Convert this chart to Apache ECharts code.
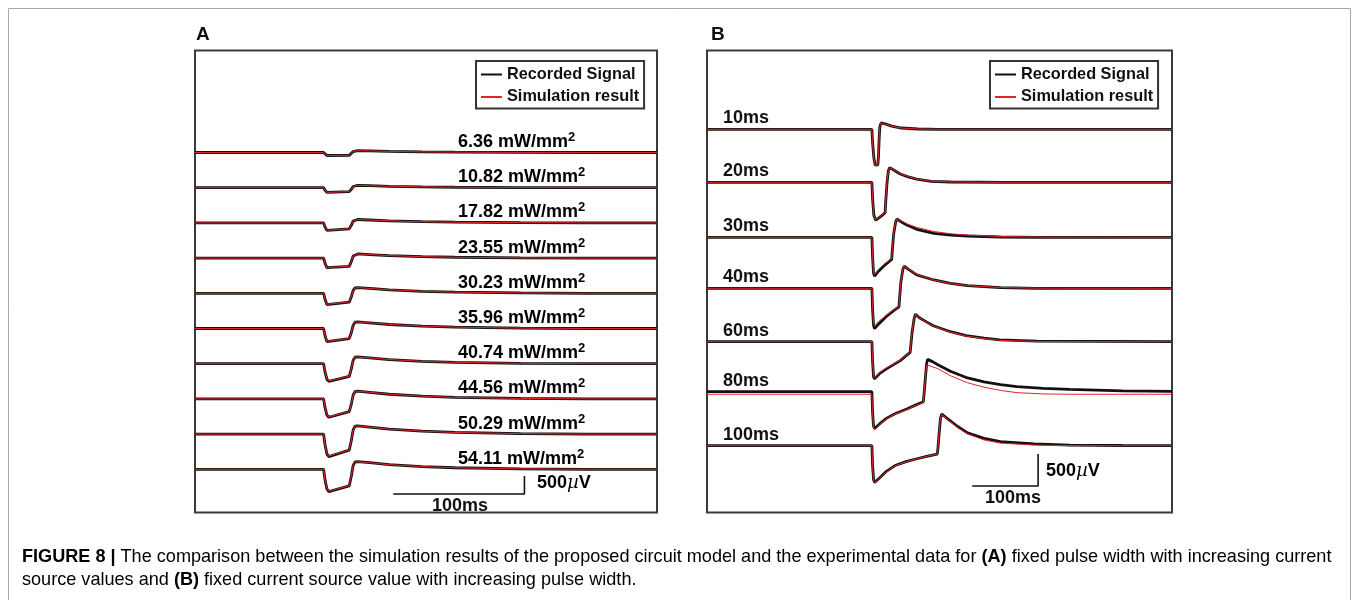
<!DOCTYPE html>
<html><head><meta charset="utf-8">
<script src="https://cdn.jsdelivr.net/npm/echarts@6/dist/echarts.min.js"></script>
<style>html,body{margin:0;padding:0;background:#fff}#c{width:1358px;height:600px}</style>
</head><body><div id="c"></div>
<script>
// ---------------- DATA ----------------
// Panel A: fixed pulse width (~20 ms), increasing intensity. Time in ms relative to stimulus onset, amplitude in µV.
const timeA = [-98, 0, 1, 2.5, 4, 19.5, 21, 22.5, 24, 26, 35, 50, 75, 100, 150, 200, 254];
const intensityLabelsA = ['6.36', '10.82', '17.82', '23.55', '30.23', '35.96', '40.74', '44.56', '50.29', '54.11'];
const recordedA = [
  [0, 0, -43, -84, -95, -80, -36, 25, 48, 50, 43, 30, 18, 10, 3, 0, 0],
  [0, 0, -68, -132, -150, -110, -50, 33, 62, 65, 55, 39, 23, 13, 4, 0, 0],
  [0, 0, -106, -207, -235, -165, -74, 48, 90, 95, 81, 57, 33, 19, 6, 0, 0],
  [0, 0, -135, -264, -300, -230, -104, 58, 109, 115, 98, 69, 40, 23, 7, 0, 0],
  [0, 0, -160, -312, -355, -245, -110, 80, 152, 160, 136, 96, 56, 32, 10, 0, 0],
  [0, 0, -187, -365, -415, -280, -126, 93, 176, 185, 157, 111, 65, 37, 11, 0, 0],
  [0, 0, -220, -431, -490, -350, -158, 95, 181, 190, 162, 114, 67, 38, 11, 0, 0],
  [0, 0, -230, -449, -510, -355, -160, 108, 204, 215, 183, 129, 75, 43, 13, 0, 0],
  [0, 0, -281, -550, -625, -445, -200, 115, 219, 230, 196, 138, 81, 46, 14, 0, 0],
  [0, 0, -279, -546, -620, -460, -207, 108, 204, 215, 183, 129, 75, 43, 13, 0, 0]
];
const simulatedA = [
  [0, 0, -40, -82, -92, -78, -34, 24, 46, 50, 44, 31, 18, 10, 3, 0, 0],
  [0, 0, -65, -130, -146, -108, -48, 32, 60, 64, 56, 40, 24, 13, 4, 0, 0],
  [0, 0, -102, -203, -230, -162, -72, 47, 88, 94, 82, 58, 34, 19, 6, 0, 0],
  [0, 0, -131, -260, -294, -226, -100, 57, 106, 114, 99, 70, 41, 23, 7, 0, 0],
  [0, 0, -156, -306, -348, -240, -106, 78, 148, 158, 137, 97, 57, 32, 10, 0, 0],
  [0, 0, -182, -358, -406, -276, -122, 91, 172, 183, 158, 112, 66, 37, 11, 0, 0],
  [0, 0, -214, -424, -480, -345, -154, 93, 178, 188, 163, 115, 68, 38, 11, 0, 0],
  [0, 0, -224, -442, -500, -350, -156, 106, 200, 213, 184, 130, 76, 43, 13, 0, 0],
  [0, 0, -274, -541, -612, -440, -196, 113, 215, 228, 197, 139, 82, 46, 14, 0, 0],
  [0, 0, -272, -537, -608, -455, -203, 106, 200, 213, 184, 130, 76, 43, 13, 0, 0]
];

// Panel B: fixed intensity, increasing pulse width. [time ms from onset, µV]
const widthLabelsB = ['10ms', '20ms', '30ms', '40ms', '60ms', '80ms', '100ms'];
const recorded10 = [[-250,0],[0,0],[1,-200],[3,-450],[5,-560],[7,-585],[9,-555],[10,-420],[11,-150],[12,40],[14,100],[16,105],[20,85],[30,50],[45,20],[70,5],[100,0],[455,0]];
const simulated10 = [[-250,0],[0,0],[1,-210],[3,-460],[5,-565],[7,-580],[9,-550],[10,-410],[11,-140],[12,45],[14,100],[16,102],[20,82],[30,48],[45,20],[70,5],[100,0],[455,0]];
const recorded20 = [[-250,0],[0,0],[1,-250],[3,-520],[6,-590],[10,-560],[15,-520],[20,-475],[21,-300],[23,0],[25,180],[27,230],[35,180],[43,130],[55,85],[68,50],[90,15],[120,5],[200,0],[455,0]];
const simulated20 = [[-250,0],[0,0],[1,-260],[3,-525],[6,-585],[10,-555],[15,-515],[20,-470],[21,-290],[23,10],[25,185],[27,228],[35,185],[43,135],[55,88],[68,52],[90,18],[120,5],[200,0],[455,0]];
const recorded30 = [[-250,0],[0,0],[1,-300],[2.5,-560],[4,-605],[10,-530],[20,-430],[30,-345],[31,-200],[33,50],[36,240],[38,285],[45,240],[53,192],[68,125],[94,62],[120,35],[145,20],[195,5],[250,0],[455,0]];
const simulated30 = [[-250,0],[0,0],[1,-290],[2.5,-545],[4,-580],[10,-500],[20,-410],[30,-330],[31,-190],[33,60],[36,245],[38,285],[45,255],[53,210],[68,155],[94,90],[120,55],[145,35],[195,12],[250,3],[455,0]];
const recorded40 = [[-250,0],[0,0],[1,-320],[2.5,-580],[4,-630],[10,-560],[22,-440],[33,-350],[41,-290],[42,-150],[44,100],[47,300],[49,345],[55,300],[68,210],[94,130],[119,78],[145,42],[195,10],[250,0],[455,0]];
const simulated40 = [[-250,0],[0,0],[1,-300],[2.5,-550],[4,-590],[10,-520],[22,-420],[33,-340],[41,-285],[42,-150],[44,100],[47,305],[49,345],[55,305],[68,215],[94,128],[119,75],[145,42],[195,12],[250,2],[455,0]];
const recorded60 = [[-250,0],[0,0],[1,-300],[2.5,-545],[4,-580],[12,-495],[22,-425],[43,-295],[58,-168],[59,-60],[61,150],[64,360],[66,430],[72,375],[80,325],[93,250],[119,156],[143,94],[170,55],[194,30],[250,8],[455,0]];
const simulated60 = [[-250,0],[0,0],[1,-290],[2.5,-530],[4,-565],[12,-480],[22,-410],[43,-290],[58,-165],[59,-55],[61,160],[64,365],[66,425],[72,375],[80,320],[93,245],[119,150],[143,88],[170,48],[194,22],[250,4],[455,0]];
const recorded80 = [[-250,0],[0,0],[1,-310],[2.5,-540],[4,-575],[12,-500],[22,-417],[35,-345],[53,-271],[66,-210],[78,-156],[79,-50],[81,200],[83,440],[84.5,505],[92,470],[100,420],[119,320],[145,215],[170,152],[195,112],[220,80],[260,52],[300,35],[380,12],[455,5]];
const simulated80 = [[-250,-40],[0,-40],[1,-330],[2.5,-560],[4,-600],[12,-510],[22,-425],[35,-350],[53,-280],[66,-215],[78,-160],[79,-40],[81,200],[83,420],[85,450],[100,360],[119,250],[145,140],[170,70],[195,20],[220,-15],[260,-35],[300,-40],[455,-40]];
const recorded100 = [[-250,0],[0,0],[1,-300],[2.5,-530],[4,-575],[6.5,-585],[12,-500],[22,-400],[35,-310],[53,-245],[70,-200],[83,-167],[99,-130],[100,-60],[102,200],[104,430],[106,495],[115,420],[130,300],[145,200],[170,115],[195,65],[246,28],[300,10],[380,3],[455,0]];
const simulated100 = [[-250,0],[0,0],[1,-310],[2.5,-540],[4,-580],[6.5,-585],[12,-505],[22,-405],[35,-315],[53,-248],[70,-202],[83,-168],[99,-130],[100,-55],[102,210],[104,430],[106,490],[115,410],[130,285],[145,185],[170,90],[195,40],[246,10],[300,2],[380,0],[455,0]];
const recordedB = [recorded10, recorded20, recorded30, recorded40, recorded60, recorded80, recorded100];
const simulatedB = [simulated10, simulated20, simulated30, simulated40, simulated60, simulated80, simulated100];

// Scale bars: [ms, µV]
const scaleBarA = [[53, 0], [153, 0], [153, 500]];
const scaleBarB = [[152, 0], [252, 0], [252, 500]];

// ---------------- LAYOUT ----------------
const FONT = '"Liberation Sans", Arial, Helvetica, sans-serif';
const BLACK = '#111111', RED = '#e3242b';
const A = {left: 195, width: 462, xMin: -98, xMax: 254, pxPerUV: 18 / 500, yMin: -750, yMax: 300,
  baselines: [152.5, 187.7, 222.9, 258.1, 293.3, 328.5, 363.7, 398.9, 434.1, 469.3]};
const B = {left: 707, width: 465, xMin: -250, xMax: 455, pxPerUV: 32 / 500, yMin: -700, yMax: 600,
  baselines: [129.3, 182.3, 237.3, 288.3, 341.7, 391.7, 445.7]};

const grids = [], xAxes = [], yAxes = [], series = [];
function addGrid(P, top, height, yMin, yMax) {
  const i = grids.length;
  grids.push({left: P.left, width: P.width, top: top, height: height, outerBoundsMode: 'none', containLabel: false});
  xAxes.push({type: 'value', gridIndex: i, min: P.xMin, max: P.xMax, show: false});
  yAxes.push({type: 'value', gridIndex: i, min: yMin, max: yMax, show: false});
  return i;
}
function lineSeries(idx, name, data, color, width, z) {
  return {type: 'line', name: name, xAxisIndex: idx, yAxisIndex: idx, data: data, symbol: 'none',
    showSymbol: false, clip: false, silent: true, z: z, animation: false,
    lineStyle: {color: color, width: width}, itemStyle: {color: color}};
}
function addTrace(P, base, rec, sim) {
  const top = base - P.yMax * P.pxPerUV;
  const h = (P.yMax - P.yMin) * P.pxPerUV;
  const idx = addGrid(P, top, h, P.yMin, P.yMax);
  series.push(lineSeries(idx, 'Recorded Signal', rec, BLACK, 2.8, 2));
  series.push(lineSeries(idx, 'Simulation result', sim, RED, 1, 3));
}
recordedA.forEach((vals, k) => {
  const rec = timeA.map((t, j) => [t, vals[j]]);
  const sim = timeA.map((t, j) => [t, simulatedA[k][j]]);
  addTrace(A, A.baselines[k], rec, sim);
});
recordedB.forEach((rec, k) => addTrace(B, B.baselines[k], rec, simulatedB[k]));

// scale bars
const sa = addGrid(A, 476, 500 * A.pxPerUV, 0, 500);
series.push(lineSeries(sa, 'scaleA', scaleBarA, BLACK, 1.6, 4));
const sb = addGrid(B, 454, 500 * B.pxPerUV, 0, 500);
series.push(lineSeries(sb, 'scaleB', scaleBarB, BLACK, 1.6, 4));

// ---------------- GRAPHIC TEXT ----------------
const graphic = [];
graphic.push({type: 'rect', shape: {x: 8.5, y: 8.5, width: 1342, height: 640}, style: {fill: 'none', stroke: '#a8a8a8', lineWidth: 1}, z: 0});
graphic.push({type: 'rect', shape: {x: 195, y: 50.5, width: 462, height: 462}, style: {fill: 'none', stroke: '#3a3a3a', lineWidth: 2}, z: 1});
graphic.push({type: 'rect', shape: {x: 707, y: 50.5, width: 465, height: 462}, style: {fill: 'none', stroke: '#3a3a3a', lineWidth: 2}, z: 1});
graphic.push({type: 'text', x: 196, y: 35, style: {text: 'A', font: 'bold 19px ' + FONT, fill: '#111', verticalAlign: 'middle'}});
graphic.push({type: 'text', x: 711, y: 35, style: {text: 'B', font: 'bold 19px ' + FONT, fill: '#111', verticalAlign: 'middle'}});

const supRich = {
  m: {fontSize: 18, fontWeight: 'bold', fontFamily: FONT, color: '#111', lineHeight: 22},
  s: {fontSize: 13, fontWeight: 'bold', fontFamily: FONT, color: '#111', lineHeight: 9, verticalAlign: 'top'}
};
intensityLabelsA.forEach((lab, k) => {
  graphic.push({type: 'text', x: 458, y: A.baselines[k] - 10.5, z: 10,
    style: {text: '{m|' + lab + ' mW/mm}{s|2}', rich: supRich, verticalAlign: 'middle'}});
});
widthLabelsB.forEach((lab, k) => {
  graphic.push({type: 'text', x: 723, y: B.baselines[k] - 11, z: 10,
    style: {text: lab, font: 'bold 18px ' + FONT, fill: '#111', verticalAlign: 'middle'}});
});
const uvRich = {
  b: {fontSize: 18, fontWeight: 'bold', fontFamily: FONT, color: '#111'},
  u: {fontSize: 18, fontStyle: 'italic', fontFamily: '"DejaVu Serif", serif', color: '#111'}
};
graphic.push({type: 'text', x: 537, y: 483.5, style: {text: '{b|500}{u|µ}{b|V}', rich: uvRich, verticalAlign: 'middle'}});
graphic.push({type: 'text', x: 460, y: 506, style: {text: '100ms', font: 'bold 18px ' + FONT, fill: '#111', align: 'center', verticalAlign: 'middle'}});
graphic.push({type: 'text', x: 1046, y: 471.5, style: {text: '{b|500}{u|µ}{b|V}', rich: uvRich, verticalAlign: 'middle'}});
graphic.push({type: 'text', x: 1013, y: 498.5, style: {text: '100ms', font: 'bold 18px ' + FONT, fill: '#111', align: 'center', verticalAlign: 'middle'}});

const capRich = {
  b: {fontSize: 18.1, fontWeight: 'bold', fontFamily: FONT, color: '#333'},
  n: {fontSize: 18.1, fontFamily: FONT, color: '#3a3a3a'}
};
graphic.push({type: 'text', x: 22, y: 557, style: {rich: capRich, verticalAlign: 'middle',
  text: '{b|FIGURE 8 |}{n| The comparison between the simulation results of the proposed circuit model and the experimental data for }{b|(A)}{n| fixed pulse width with increasing current}'}});
graphic.push({type: 'text', x: 22, y: 580, style: {rich: capRich, verticalAlign: 'middle',
  text: '{n|source values and }{b|(B)}{n| fixed current source value with increasing pulse width.}'}});

// ---------------- LEGENDS ----------------
function legendAt(left) {
  return {left: left, top: 61, orient: 'vertical', selectedMode: false,
    data: ['Recorded Signal', 'Simulation result'],
    padding: [2.5, 5, 0.5, 4], itemGap: 0.5, itemWidth: 21, itemHeight: 22,
    itemStyle: {opacity: 0},
    borderColor: '#333', borderWidth: 2, backgroundColor: '#fff',
    textStyle: {fontSize: 16.3, fontWeight: 'bold', color: '#111', fontFamily: FONT, lineHeight: 22}};
}

const chart = echarts.init(document.getElementById('c'), null, {renderer: 'canvas'});
chart.setOption({
  animation: false,
  backgroundColor: '#fff',
  grid: grids, xAxis: xAxes, yAxis: yAxes, series: series,
  legend: [legendAt(476), legendAt(990)],
  graphic: graphic
});
</script></body></html>
